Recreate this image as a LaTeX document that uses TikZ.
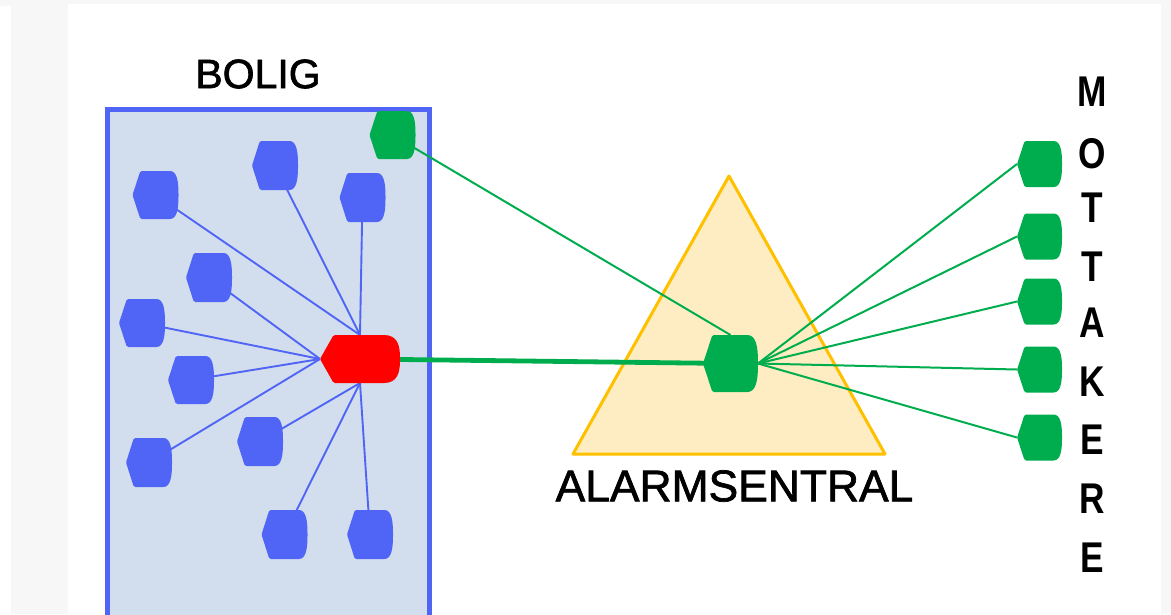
\documentclass[tikz,border=0pt]{standalone}
\usepackage{fontspec}
\setmainfont{Liberation Sans}
\newfontfamily\heavysans[FakeBold=1.6]{Liberation Sans}
\usetikzlibrary{calc}

\definecolor{nodeblue}{HTML}{5065F5}
\definecolor{boxfill}{HTML}{D2DEEE}
\definecolor{alarmgreen}{HTML}{00AD4E}
\definecolor{gold}{HTML}{FFC000}
\definecolor{goldfill}{HTML}{FEEDC2}
\definecolor{pagegray}{HTML}{F7F7F7}

\pgfdeclarelayer{back}
\pgfdeclarelayer{wires}
\pgfsetlayers{back,wires,main}

\tikzset{
  slot/.style={inner sep=0pt, outer sep=0pt},
  wire/.style={line width=1.9pt, nodeblue},
  gwire/.style={line width=2pt, alarmgreen},
  trunk/.style={line width=4.8pt, alarmgreen},
  lbl/.style={inner sep=0pt, font=\fontsize{41}{41}\heavysans},
  bigl/.style={inner sep=0pt, font=\fontsize{44.4}{44.4}\heavysans},
  vlet/.style={inner sep=0pt, font=\fontsize{43}{43}\selectfont\bfseries},
}

% display-style unit: pointed left side, bulging right side
% #1 name, #2 x, #3 y, #4 width, #5 height, #6 colour
\newcommand\dispnode[6]{%
  \node[slot, minimum width=#4, minimum height=#5] (#1) at (#2,#3) {};
  \fill[#6, rounded corners=1.5pt] (#1.west)
    -- ($(#1.north west)!0.17!(#1.north east)$)
    -- ($(#1.north west)!0.78!(#1.north east)$)
    .. controls ($(#1.north west)!0.97!(#1.north east)$) and ($(#1.east)!0.55!(#1.north east)$) .. (#1.east)
    .. controls ($(#1.east)!0.55!(#1.south east)$) and ($(#1.south west)!0.97!(#1.south east)$) .. ($(#1.south west)!0.78!(#1.south east)$)
    -- ($(#1.south west)!0.17!(#1.south east)$) -- cycle;
}

\begin{document}
\begin{tikzpicture}[x=1pt, y=-1pt]
\useasboundingbox (0,0) rectangle (1171,614);
\clip (0,0) rectangle (1171,614);

% page, building box and central triangle
\begin{pgfonlayer}{back}
  \fill[pagegray] (0,0) rectangle (1171,614);
  \fill[white] (0,6) rectangle (11,614);
  \fill[white] (68,4) rectangle (1161,614);
  \draw[line width=5pt, nodeblue, fill=boxfill] (107.5,109.5) rectangle (429.5,640);
  \coordinate (apex) at (729,176);
  \coordinate (baseR) at (885,454);
  \coordinate (baseL) at (573,454);
  \draw[line width=3pt, gold, fill=goldfill, line join=round] (apex) -- (baseR) -- (baseL) -- cycle;
\end{pgfonlayer}

% detectors in the building
\dispnode{b1}{275}{165.5}{46pt}{49pt}{nodeblue}
\dispnode{b2}{155.5}{195}{46pt}{48pt}{nodeblue}
\dispnode{b3}{362.5}{197.5}{46pt}{49pt}{nodeblue}
\dispnode{b4}{209}{277.5}{46pt}{49pt}{nodeblue}
\dispnode{b5}{142}{323}{46pt}{48pt}{nodeblue}
\dispnode{b6}{191}{380}{46pt}{48pt}{nodeblue}
\dispnode{b7}{260}{441.5}{46pt}{49pt}{nodeblue}
\dispnode{b8}{149}{462.5}{46pt}{49pt}{nodeblue}
\dispnode{b9}{284.5}{534.5}{46pt}{49pt}{nodeblue}
\dispnode{b10}{370}{534.5}{46pt}{49pt}{nodeblue}

% home unit, control panel, alarm central
\dispnode{home}{392.5}{135}{46pt}{48pt}{alarmgreen}
\dispnode{hub}{360}{359}{80pt}{48pt}{red}
\dispnode{central}{730.5}{363.5}{55pt}{57pt}{alarmgreen}

% receivers
\dispnode{r1}{1039.5}{164}{45pt}{46pt}{alarmgreen}
\dispnode{r2}{1039.5}{236.5}{45pt}{46pt}{alarmgreen}
\dispnode{r3}{1039.5}{301.5}{45pt}{46pt}{alarmgreen}
\dispnode{r4}{1039.5}{369.5}{45pt}{46pt}{alarmgreen}
\dispnode{r5}{1039.5}{437.5}{45pt}{46pt}{alarmgreen}

% connections
\begin{pgfonlayer}{wires}
  \foreach \n in {b1,b2,b3} \draw[wire] (\n.center) -- (hub.north);
  \foreach \n in {b4,b5,b6,b8} \draw[wire] (\n.center) -- (hub.west);
  \foreach \n in {b7,b9,b10} \draw[wire] (\n.center) -- (hub.south);
  \draw[trunk] (hub.center) -- (central.center);
  \draw[gwire] (home.center) -- (central.north);
  \foreach \n in {r1,r2,r3,r4,r5} \draw[gwire] (central.east) -- (\n.west);
\end{pgfonlayer}

% labels
\node[lbl] (bolig) at (258,74) {BOLIG};
\node[bigl] (sentral) at (734.5,486) {ALARMSENTRAL};

\foreach \c/\y [count=\i] in {M/92, O/154, T/208, T/267, A/323, K/382, E/440, R/499, E/558}{
  \node[vlet] (mot\i) at (1092,\y) {\scalebox{0.82}[1]{\c}};
}
\end{tikzpicture}
\end{document}
